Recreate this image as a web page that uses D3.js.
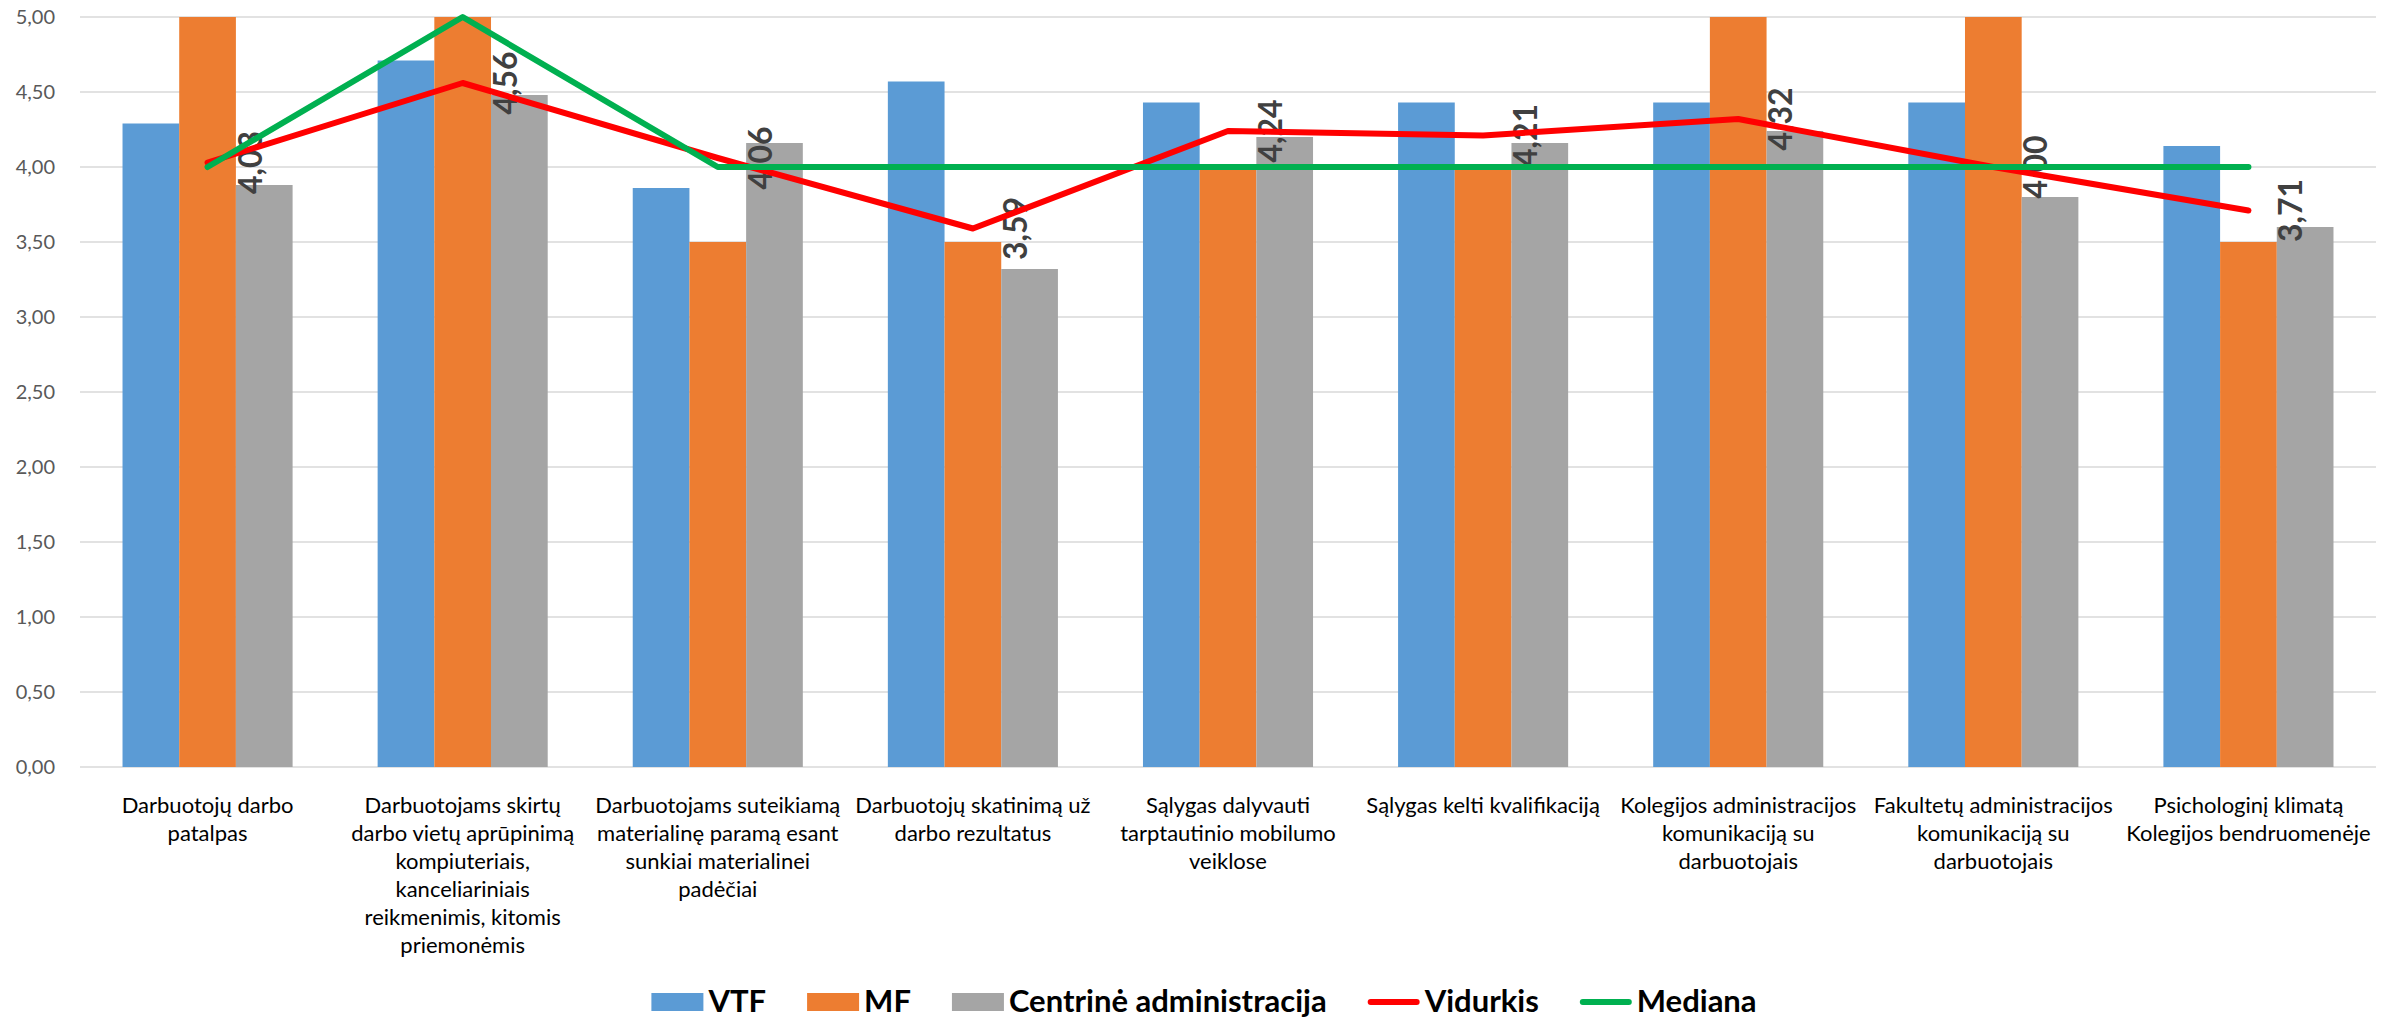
<!DOCTYPE html>
<html>
<head>
<meta charset="utf-8">
<script src="https://cdn.jsdelivr.net/npm/d3@7"></script>
<style>
  html, body { margin: 0; padding: 0; background: #ffffff; }
  svg { display: block; }
</style>
</head>
<body>
<svg id="chart" width="2395" height="1020"></svg>
<script>
// ---------- DATA ----------
const categories = [
  ["Darbuotojų darbo", "patalpas"],
  ["Darbuotojams skirtų", "darbo vietų aprūpinimą", "kompiuteriais,", "kanceliariniais", "reikmenimis, kitomis", "priemonėmis"],
  ["Darbuotojams suteikiamą", "materialinę paramą esant", "sunkiai materialinei", "padėčiai"],
  ["Darbuotojų skatinimą už", "darbo rezultatus"],
  ["Sąlygas dalyvauti", "tarptautinio mobilumo", "veiklose"],
  ["Sąlygas kelti kvalifikaciją"],
  ["Kolegijos administracijos", "komunikaciją su", "darbuotojais"],
  ["Fakultetų administracijos", "komunikaciją su", "darbuotojais"],
  ["Psichologinį klimatą", "Kolegijos bendruomenėje"]
];
const barSeriesNames = ["VTF", "MF", "Centrinė administracija"];
const vtf      = [4.29, 4.71, 3.86, 4.57, 4.43, 4.43, 4.43, 4.43, 4.14];
const mf       = [5.00, 5.00, 3.50, 3.50, 4.00, 4.00, 5.00, 5.00, 3.50];
const central  = [3.88, 4.48, 4.16, 3.32, 4.20, 4.16, 4.24, 3.80, 3.60];
const vidurkis = [4.03, 4.56, 4.06, 3.59, 4.24, 4.21, 4.32, 4.00, 3.71];
const mediana  = [4.00, 5.00, 4.00, 4.00, 4.00, 4.00, 4.00, 4.00, 4.00];
const lineSeriesNames = ["Vidurkis", "Mediana"];
const yTicks = [0, 0.5, 1, 1.5, 2, 2.5, 3, 3.5, 4, 4.5, 5];

// ---------- STYLE ----------
const barColors = ["#5B9BD5", "#ED7D31", "#A5A5A5"];
const lineColors = ["#FF0000", "#00B050"];
const FONT = "Lato, 'Open Sans', sans-serif";

const svg = d3.select("#chart");
const plot = { left: 80, right: 2376, top: 17, bottom: 767 };

const catIdx = categories.map((d, i) => i);
const x0 = d3.scaleBand().domain(catIdx).range([plot.left, plot.right])
  .paddingInner(1 / 3).paddingOuter(1 / 6);
const x1 = d3.scaleBand().domain([0, 1, 2]).range([0, x0.bandwidth()]);
const y = d3.scaleLinear().domain([0, 5]).range([plot.bottom, plot.top]);
const fmt = v => d3.format(".2f")(v).replace(".", ",");

// gridlines
svg.append("g").selectAll("line").data(yTicks).join("line")
  .attr("x1", plot.left).attr("x2", plot.right)
  .attr("y1", d => y(d)).attr("y2", d => y(d))
  .attr("stroke", "#D9D9D9").attr("stroke-width", 1.5);

// y axis labels
const yAxis = d3.axisLeft(y).tickValues(yTicks).tickFormat(fmt).tickSize(0).tickPadding(0);
const gy = svg.append("g").attr("transform", `translate(${plot.left - 25},0)`).call(yAxis);
gy.select(".domain").remove();
gy.selectAll("text").attr("font-family", FONT).attr("font-size", 20).attr("fill", "#595959");

// bars
const barData = [vtf, mf, central];
const gBars = svg.append("g");
barData.forEach((arr, s) => {
  gBars.append("g").selectAll("rect").data(arr).join("rect")
    .attr("x", (d, i) => x0(i) + x1(s))
    .attr("width", x1.bandwidth())
    .attr("y", d => y(d))
    .attr("height", d => y(0) - y(d))
    .attr("fill", barColors[s]);
});

// data labels (Vidurkis)
const cx = i => x0(i) + x0.bandwidth() / 2;
svg.append("g").selectAll("text").data(vidurkis).join("text")
  .attr("transform", (d, i) => `translate(${cx(i) + 54},${y(d)}) rotate(-90)`)
  .attr("text-anchor", "middle")
  .attr("font-family", FONT).attr("font-weight", "bold").attr("font-size", 32)
  .attr("fill", "#404040")
  .text(d => fmt(d));

// lines
const lineGen = d3.line().x((d, i) => cx(i)).y(d => y(d));
[vidurkis, mediana].forEach((arr, s) => {
  svg.append("path").datum(arr)
    .attr("d", lineGen)
    .attr("fill", "none")
    .attr("stroke", lineColors[s])
    .attr("stroke-width", 6)
    .attr("stroke-linejoin", "round")
    .attr("stroke-linecap", "round");
});

// category labels
const gCat = svg.append("g");
categories.forEach((lines, i) => {
  const t = gCat.append("text")
    .attr("text-anchor", "middle")
    .attr("font-family", FONT).attr("font-size", 22).attr("fill", "#000000");
  lines.forEach((ln, k) => {
    t.append("tspan").attr("x", cx(i)).attr("y", 813 + k * 28).text(ln);
  });
});

// legend
const legendItems = [
  ...barSeriesNames.map((n, i) => ({ name: n, type: "rect", color: barColors[i] })),
  ...lineSeriesNames.map((n, i) => ({ name: n, type: "line", color: lineColors[i] }))
];
const gLeg = svg.append("g");
const swW = 52, swGap = 5, itemGap = 41, legY = 1002;
let cursor = 0;
legendItems.forEach(it => {
  const g = gLeg.append("g");
  if (it.type === "rect") {
    g.append("rect").attr("x", cursor).attr("y", legY - 9).attr("width", swW).attr("height", 18).attr("fill", it.color);
  } else {
    g.append("line").attr("x1", cursor + 3).attr("x2", cursor + swW - 3).attr("y1", legY).attr("y2", legY)
      .attr("stroke", it.color).attr("stroke-width", 6).attr("stroke-linecap", "round");
  }
  const t = g.append("text").attr("x", cursor + swW + swGap).attr("y", legY + 10)
    .attr("font-family", FONT).attr("font-weight", "bold").attr("font-size", 31)
    .attr("fill", "#000000").text(it.name);
  const w = t.node().getComputedTextLength();
  cursor += swW + swGap + w + itemGap;
});
const totalW = cursor - itemGap;
gLeg.attr("transform", `translate(${1204 - totalW / 2},0)`);
</script>
</body>
</html>
